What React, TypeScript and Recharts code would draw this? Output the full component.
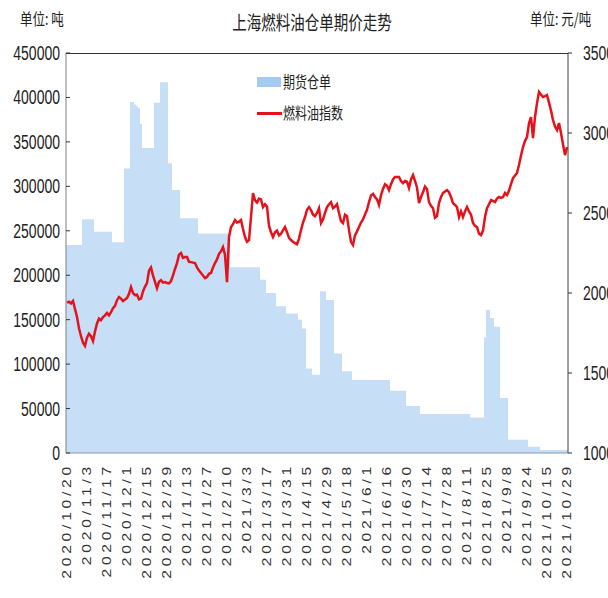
import React from "react";
import {
  ComposedChart,
  Bar,
  Line,
  XAxis,
  YAxis,
} from "recharts";

// x-axis labels, one every 10 trading days
const dateLabels = [
  "2020/10/20", "2020/11/3", "2020/11/17", "2020/12/1", "2020/12/15",
  "2020/12/29", "2021/1/13", "2021/1/27", "2021/2/10", "2021/3/3",
  "2021/3/17", "2021/3/31", "2021/4/15", "2021/4/29", "2021/5/18",
  "2021/6/1", "2021/6/16", "2021/6/30", "2021/7/14", "2021/7/28",
  "2021/8/11", "2021/8/25", "2021/9/8", "2021/9/24", "2021/10/15",
  "2021/10/29",
];

// 期货仓单 (吨), daily
const warehouseReceipts = [
  234000, 234000, 234000, 234000, 234000, 234000, 234000, 234000, 263000, 263000,
  263000, 263000, 263000, 263000, 249000, 249000, 249000, 249000, 249000, 249000,
  249000, 249000, 249000, 237000, 237000, 237000, 237000, 237000, 237000, 320000,
  320000, 320000, 395000, 395000, 392000, 390000, 388000, 370000, 343000, 343000,
  343000, 343000, 343000, 343000, 394000, 394000, 394000, 417000, 417000, 417000,
  417000, 326000, 326000, 296000, 296000, 296000, 296000, 264000, 264000, 264000,
  264000, 264000, 264000, 264000, 264000, 264000, 247000, 247000, 247000, 247000,
  247000, 247000, 247000, 247000, 247000, 247000, 247000, 247000, 247000, 247000,
  247000, 247000, 209000, 209000, 209000, 209000, 209000, 209000, 209000, 209000,
  209000, 209000, 209000, 209000, 209000, 209000, 209000, 195000, 195000, 195000,
  180000, 180000, 180000, 180000, 180000, 165000, 165000, 165000, 165000, 165000,
  157000, 157000, 157000, 157000, 157000, 157000, 150000, 150000, 140000, 140000,
  95000, 95000, 95000, 88000, 88000, 88000, 88000, 182000, 182000, 182000,
  172000, 172000, 172000, 172000, 112000, 112000, 112000, 112000, 92000, 92000,
  92000, 92000, 92000, 82000, 82000, 82000, 82000, 82000, 82000, 82000,
  82000, 82000, 82000, 82000, 82000, 82000, 82000, 82000, 82000, 82000,
  82000, 82000, 70000, 70000, 70000, 70000, 70000, 70000, 70000, 70000,
  53000, 53000, 53000, 53000, 53000, 53000, 53000, 44000, 44000, 44000,
  44000, 44000, 44000, 44000, 44000, 44000, 44000, 44000, 44000, 44000,
  44000, 44000, 44000, 44000, 44000, 44000, 44000, 44000, 44000, 44000,
  44000, 44000, 40000, 40000, 40000, 40000, 40000, 40000, 40000, 130000,
  161000, 161000, 152000, 152000, 142000, 142000, 142000, 62000, 62000, 62000,
  62000, 15000, 15000, 15000, 15000, 15000, 15000, 15000, 15000, 15000,
  15000, 7000, 7000, 7000, 7000, 7000, 7000, 3500, 3500, 3500,
  3500, 3500, 3500, 3500, 3500, 3500, 3500, 3500, 3500, 3500,
  3500,
];

// 燃料油指数 (元/吨), daily
const fuelOilIndex = [
  1940, 1945, 1935, 1950, 1900, 1850, 1780, 1730, 1690, 1670,
  1720, 1745, 1730, 1700, 1760, 1810, 1840, 1830, 1850, 1860,
  1875, 1860, 1880, 1905, 1920, 1955, 1975, 1965, 1950, 1960,
  1968, 1995, 2037, 2000, 1987, 1990, 1960, 1965, 2010, 2040,
  2062, 2140, 2160, 2110, 2070, 2030, 2070, 2080, 2065, 2068,
  2062, 2060, 2075, 2110, 2150, 2187, 2240, 2250, 2220, 2225,
  2225, 2195, 2193, 2190, 2187, 2160, 2140, 2125, 2110, 2093,
  2100, 2120, 2125, 2160, 2187, 2210, 2245, 2260, 2287, 2240,
  2068, 2350, 2412, 2430, 2456, 2440, 2445, 2456, 2400, 2350,
  2320, 2330, 2475, 2625, 2580, 2565, 2590, 2585, 2537, 2555,
  2540, 2420, 2380, 2350, 2380, 2390, 2360, 2370, 2393, 2412,
  2380, 2345, 2331, 2320, 2312, 2305, 2340, 2393, 2440, 2475,
  2520, 2537, 2518, 2490, 2480, 2500, 2530, 2437, 2460, 2500,
  2537, 2555, 2568, 2530, 2540, 2555, 2500, 2450, 2437, 2490,
  2480, 2393, 2320, 2300, 2360, 2385, 2412, 2440, 2460, 2490,
  2520, 2568, 2610, 2620, 2600, 2585, 2550, 2610, 2650, 2680,
  2670, 2643, 2680, 2710, 2725, 2725, 2725, 2700, 2687, 2700,
  2695, 2656, 2710, 2737, 2700, 2660, 2562, 2600, 2630, 2665,
  2650, 2568, 2545, 2530, 2470, 2480, 2562, 2600, 2625, 2635,
  2643, 2630, 2600, 2562, 2550, 2537, 2475, 2510, 2475, 2510,
  2537, 2510, 2490, 2437, 2420, 2412, 2370, 2362, 2390, 2475,
  2530, 2555, 2580, 2575, 2568, 2590, 2600, 2595, 2600, 2625,
  2612, 2640, 2680, 2718, 2735, 2750, 2800, 2860, 2912, 2950,
  2975, 3060, 3100, 2968, 3100, 3187, 3256, 3240, 3225, 3230,
  3237, 3190, 3140, 3081, 3040, 3018, 3062, 3000, 2930, 2862,
  2912,
];

const leftTicks = [0, 50000, 100000, 150000, 200000, 250000, 300000, 350000, 400000, 450000];
const rightTicks = [1000, 1500, 2000, 2500, 3000, 3500];

const data = warehouseReceipts.map((v, i) => ({
  idx: i,
  receipts: v,
  index: fuelOilIndex[i],
}));

const numFont = "'Liberation Sans', Arial, sans-serif";
const cjkFont = "'Noto Sans CJK SC', sans-serif";

const LeftTick = ({ x, y, payload }: any) => (
  <g>
    <line x1={x} x2={x + 4} y1={y} y2={y} stroke="#333" />
    <text
      x={x - 6}
      y={y}
      textAnchor="end"
      dominantBaseline="central"
      fontSize={14}
      fontFamily={numFont}
      fill="#222"
      transform={`translate(0 ${y}) scale(1 1.45) translate(0 ${-y})`}
    >
      {payload.value}
    </text>
  </g>
);

const RightTick = ({ x, y, payload }: any) => (
  <g>
    <line x1={x} x2={x + 4} y1={y} y2={y} stroke="#333" />
    <text
      x={x + 15}
      y={y}
      textAnchor="start"
      dominantBaseline="central"
      fontSize={14}
      fontFamily={numFont}
      fill="#222"
      transform={`translate(0 ${y}) scale(1 1.45) translate(0 ${-y})`}
    >
      {payload.value}
    </text>
  </g>
);

const DateTick = ({ x, y, payload }: any) => {
  const label = dateLabels[Math.round(payload.value / 10)];
  if (!label) return null;
  return (
    <g transform={`translate(${x} ${y + 10}) rotate(-90) scale(1.3 1)`}>
      <text
        x={0}
        y={0}
        dy="0.35em"
        textAnchor="end"
        fontSize={12}
        letterSpacing={2.9}
        fontFamily={numFont}
        fill="#333"
      >
        {label}
      </text>
    </g>
  );
};

const stretch = (extra: React.CSSProperties): React.CSSProperties => ({
  position: "absolute",
  whiteSpace: "nowrap",
  fontFamily: cjkFont,
  color: "#222",
  transform: "scaleY(1.3)",
  lineHeight: 1,
  ...extra,
});

export default function App() {
  return (
    <div
      style={{
        position: "fixed",
        left: 0,
        top: 0,
        width: 608,
        height: 598,
        background: "#fff",
        overflow: "hidden",
      }}
    >
      <ComposedChart
        width={608}
        height={598}
        data={data}
        margin={{ top: 53, right: 0, bottom: 0, left: 0 }}
        barCategoryGap={0}
        barGap={0}
      >
        <XAxis
          dataKey="idx"
          interval={9}
          height={145}
          tickLine={false}
          tickSize={0}
          tickMargin={0}
          axisLine={{ stroke: "#8497b0" }}
          tick={(p: any) => <DateTick {...p} />}
        />
        <YAxis
          yAxisId="left"
          width={66}
          domain={[0, 450000]}
          ticks={leftTicks}
          interval={0}
          tickLine={false}
          tickSize={0}
          tickMargin={0}
          axisLine={{ stroke: "#808080" }}
          tick={(p: any) => <LeftTick {...p} />}
        />
        <YAxis
          yAxisId="right"
          orientation="right"
          width={40}
          domain={[1000, 3500]}
          ticks={rightTicks}
          interval={0}
          tickLine={false}
          tickSize={0}
          tickMargin={0}
          axisLine={{ stroke: "#404040" }}
          tick={(p: any) => <RightTick {...p} />}
        />
        <Bar
          yAxisId="left"
          dataKey="receipts"
          fill="#c6def6"
          isAnimationActive={false}
        />
        <Line
          yAxisId="right"
          dataKey="index"
          type="linear"
          stroke="#e5121b"
          strokeWidth={2.5}
          dot={false}
          activeDot={false}
          isAnimationActive={false}
        />
      </ComposedChart>

      {/* top border of the plot */}
      <div
        style={{
          position: "absolute",
          left: 66,
          top: 53,
          width: 502,
          height: 0,
          borderTop: "1.5px solid #333",
        }}
      />

      {/* title and units */}
      <div style={stretch({ left: 0, width: 624, top: 15, textAlign: "center", fontSize: 14.5 })}>
        上海燃料油仓单期价走势
      </div>
      <div style={stretch({ left: 20, top: 13, fontSize: 12.5 })}>单位: 吨</div>
      <div style={stretch({ left: 530, top: 13, fontSize: 12.5 })}>单位: 元/吨</div>

      {/* legend */}
      <div
        style={{
          position: "absolute",
          left: 257,
          top: 77,
          width: 24,
          height: 10,
          background: "#a3cbf2",
        }}
      />
      <div style={stretch({ left: 283, top: 76, fontSize: 12 })}>期货仓单</div>
      <div
        style={{
          position: "absolute",
          left: 257,
          top: 112,
          width: 25,
          height: 2.5,
          background: "#e5121b",
        }}
      />
      <div style={stretch({ left: 283, top: 107, fontSize: 12 })}>燃料油指数</div>
    </div>
  );
}
